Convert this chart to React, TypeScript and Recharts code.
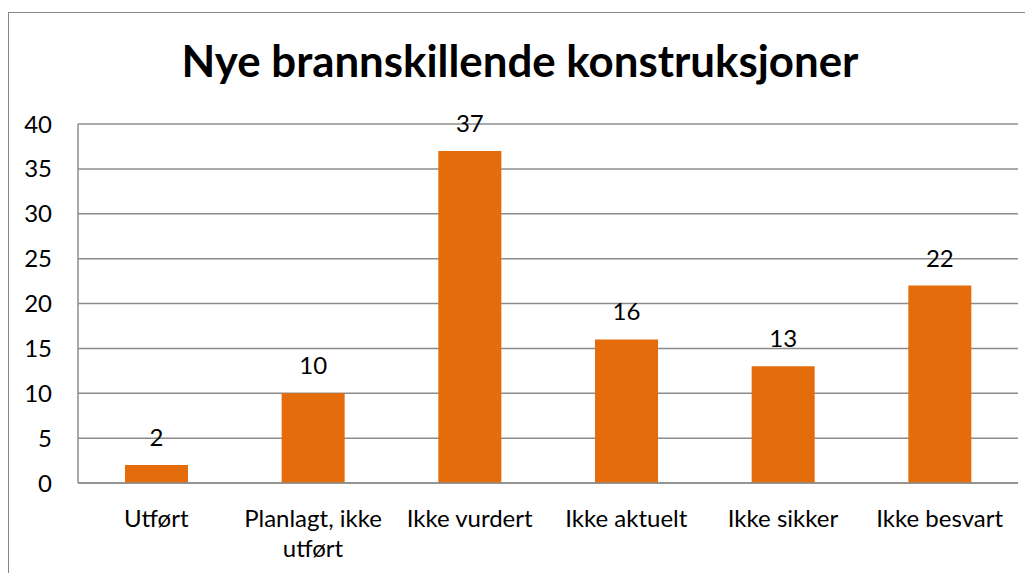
import { BarChart, Bar, XAxis, YAxis, CartesianGrid, LabelList } from 'recharts';

const categories = ['Utført', 'Planlagt, ikke utført', 'Ikke vurdert', 'Ikke aktuelt', 'Ikke sikker', 'Ikke besvart'];
const counts = [2, 10, 37, 16, 13, 22];
const yTicks = [0, 5, 10, 15, 20, 25, 30, 35, 40];

const data = categories.map((name, i) => ({ name, value: counts[i] }));

const FONT = 'Lato, "Open Sans", sans-serif';
const GRID = '#8c8c8c';

// greedy word wrap, about 14 characters per line
const wrapLabel = (label: string, max = 14) => {
  const lines: string[] = [];
  let cur = '';
  label.split(' ').forEach((w) => {
    const next = cur ? cur + ' ' + w : w;
    if (next.length > max && cur) {
      lines.push(cur);
      cur = w;
    } else {
      cur = next;
    }
  });
  if (cur) lines.push(cur);
  return lines;
};

const WrappedTick = (props: any) => {
  const { x, y, payload } = props;
  const lines = wrapLabel(String(payload.value));
  return (
    <text x={x} y={y} textAnchor="middle" fontSize={24} fontFamily={FONT} fill="#000">
      {lines.map((l, i) => (
        <tspan key={i} x={x} dy={i === 0 ? 17 : 30}>
          {l}
        </tspan>
      ))}
    </text>
  );
};

export default function App() {
  return (
    <div style={{ position: 'relative', width: 1026, height: 562, marginTop: 4, border: '1px solid #878787', boxSizing: 'border-box' }}>
      <style>{'body{overflow:hidden}'}</style>
      <svg width={1024} height={80} style={{ position: 'absolute', left: 0, top: 0 }}>
        <text x={511} y={64} textAnchor="middle" fontSize={43.8} fontWeight={700} fontFamily={FONT} fill="#000">
          Nye brannskillende konstruksjoner
        </text>
      </svg>
      <BarChart
        width={1024}
        height={560}
        data={data}
        margin={{ top: 111, right: 15, left: 9, bottom: 0 }}
        barCategoryGap="30%"
      >
        <CartesianGrid vertical={false} stroke={GRID} strokeWidth={1.5} />
        <XAxis
          dataKey="name"
          height={90}
          stroke={GRID}
          strokeWidth={1.5}
          tickLine={false}
          tickSize={0}
          tickMargin={27}
          interval={0}
          tick={<WrappedTick />}
        />
        <YAxis
          width={60}
          domain={[0, 40]}
          ticks={yTicks}
          interval={0}
          stroke={GRID}
          strokeWidth={1.5}
          tickLine={false}
          tickSize={0}
          tickMargin={26}
          tick={{ fontSize: 24, fontFamily: FONT, fill: '#000' }}
        />
        <Bar dataKey="value" fill="#E46C0A" isAnimationActive={false}>
          <LabelList dataKey="value" position="top" offset={19} fontSize={24} fontFamily={FONT} fill="#000" />
        </Bar>
      </BarChart>
    </div>
  );
}
